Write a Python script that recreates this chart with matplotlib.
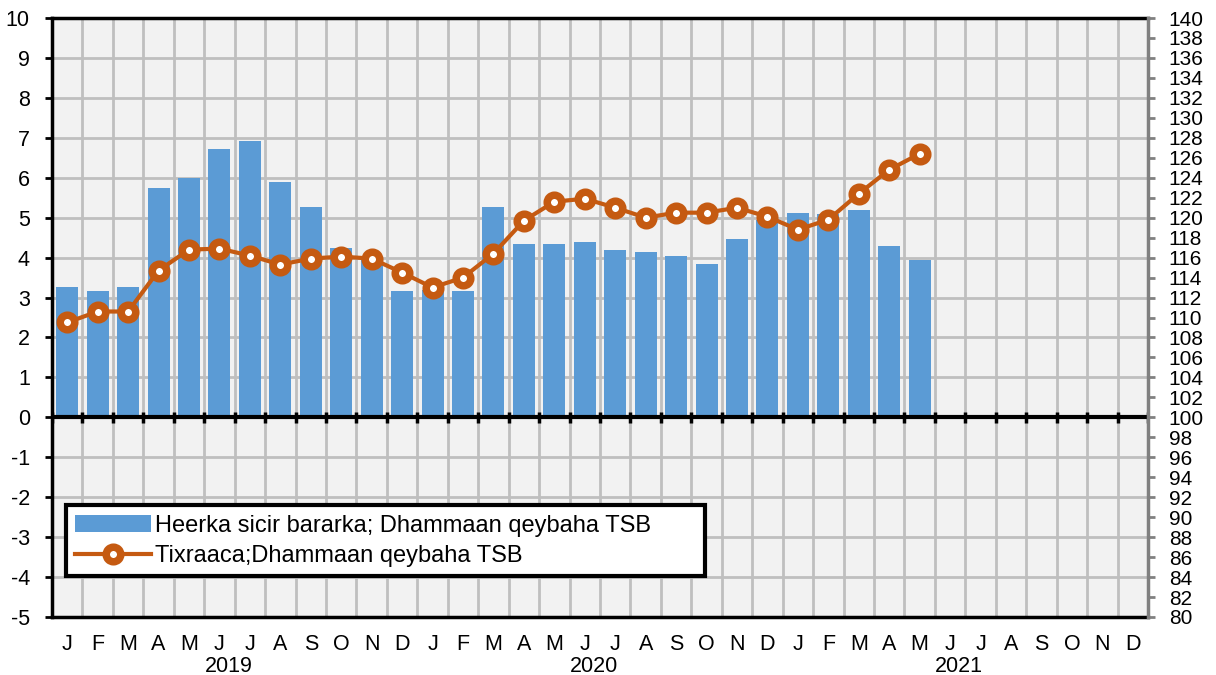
import matplotlib
matplotlib.use("Agg")
import matplotlib.pyplot as plt
import numpy as np
from matplotlib.transforms import blended_transform_factory

plt.rcParams['font.family'] = ['Liberation Sans', 'DejaVu Sans']
plt.rcParams['axes.unicode_minus'] = False

months = ["J", "F", "M", "A", "M", "J", "J", "A", "S", "O", "N", "D"] * 3
years = ["2019", "2020", "2021"]

inflation = [3.27, 3.16, 3.27, 5.75, 6.0, 6.72, 6.93, 5.90, 5.27, 4.23, 4.0, 3.16,
             3.2, 3.16, 5.27, 4.34, 4.34, 4.39, 4.19, 4.13, 4.04, 3.83, 4.46, 4.95,
             5.12, 5.1, 5.18, 4.29, 3.93]
index_vals = [109.5, 110.6, 110.6, 114.7, 116.8, 116.9, 116.2, 115.3, 115.9, 116.1, 115.9, 114.5,
              113.0, 114.0, 116.4, 119.7, 121.6, 121.9, 121.0, 120.0, 120.5, 120.5, 121.0, 120.1,
              118.8, 119.8, 122.4, 124.8, 126.4]

bar_label = "Heerka sicir bararka; Dhammaan qeybaha TSB"
line_label = "Tixraaca;Dhammaan qeybaha TSB"

BAR_C = "#5B9BD5"
LINE_C = "#C55A11"
GRID_C = "#BFBFBF"

fig = plt.figure(figsize=(12.16, 6.75), dpi=100)
ax = fig.add_axes([52/1216, 1-617/675, 1096/1216, 599/675])
ax.set_facecolor("#F2F2F2")

n = len(months)
x_all = np.arange(n)
xb = np.arange(len(inflation))
ax.bar(xb, inflation, width=0.72, color=BAR_C, zorder=3, label=bar_label)

ax.set_xlim(-0.5, n - 0.5)
ax.set_ylim(-5, 10)
ax.set_yticks(np.arange(-5, 11, 1))
ax.set_xticks(x_all)
ax.set_xticklabels(months, fontsize=15.5)
ax.set_xticks(np.arange(-0.5, n, 1), minor=True)
ax.tick_params(axis='x', which='both', length=0, pad=12)
ax.tick_params(axis='y', which='major', direction='out', length=5, width=2, labelsize=15.5, pad=11)
ax.grid(axis='y', which='major', color=GRID_C, linewidth=2, zorder=0)
ax.grid(axis='x', which='minor', color=GRID_C, linewidth=2, zorder=0)
ax.set_axisbelow(True)
for s in ['left', 'bottom', 'top']:
    ax.spines[s].set_color('black')
    ax.spines[s].set_linewidth(2.5)
ax.spines['right'].set_visible(False)

# zero axis line with boundary tick marks
ax.axhline(0, color='black', linewidth=3, zorder=4)
ax.vlines(np.arange(-0.5, n, 1), -0.13, 0.13, color='black', linewidth=2.5, zorder=4)

trans = blended_transform_factory(ax.transData, ax.transAxes)
for i, yr in enumerate(years):
    ax.text(12*i + 5.3, -0.083, yr, transform=trans, ha='center', va='center', fontsize=15.5)

ax2 = ax.twinx()
ax2.set_ylim(80, 140)
ax2.set_yticks(np.arange(80, 141, 2))
ax2.tick_params(axis='y', direction='out', length=5, width=2, color='#808080', labelsize=15, pad=10)
for s in ['left', 'bottom', 'top']:
    ax2.spines[s].set_visible(False)
ax2.spines['right'].set_color('#808080')
ax2.spines['right'].set_linewidth(2.5)
ax2.plot(xb, index_vals, color=LINE_C, linewidth=3, marker='o', markersize=10.5,
         markerfacecolor='white', markeredgecolor=LINE_C, markeredgewidth=5.4,
         zorder=5, label=line_label)

h1, l1 = ax.get_legend_handles_labels()
h2, l2 = ax2.get_legend_handles_labels()
leg = ax2.legend(h1 + h2, l1 + l2, loc='lower left', bbox_to_anchor=(0.0128, 0.068, 0.583, 0.124),
                 mode='expand', fontsize=17, frameon=True, fancybox=False, framealpha=1,
                 edgecolor='black', handlelength=3.2, handletextpad=0.15, borderaxespad=0,
                 labelspacing=0.35, borderpad=0.4)
leg.get_frame().set_linewidth(3)
leg.set_zorder(10)

fig.savefig("out.png", dpi=100)
